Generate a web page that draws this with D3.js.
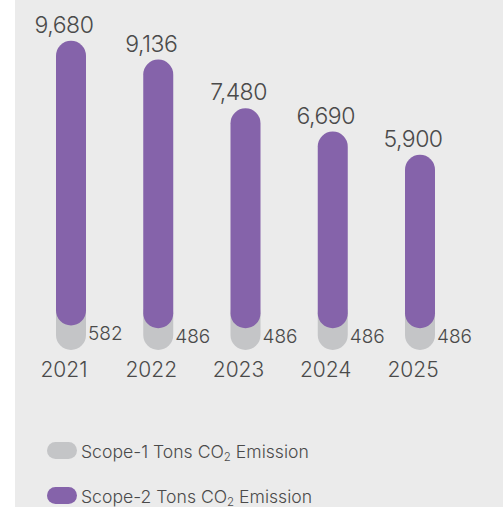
<!DOCTYPE html>
<html>
<head>
<meta charset="utf-8">
<script src="https://cdn.jsdelivr.net/npm/d3@7"></script>
<style>
  html, body { margin: 0; padding: 0; background: #ffffff; }
  svg { display: block; }
  text { font-family: Inter, Lato, "Noto Sans", sans-serif; font-weight: 300; fill: #4a4a4a; }
</style>
</head>
<body>
<div id="chart"></div>
<script>
// Emission data per year (tons CO2)
const years = ["2021", "2022", "2023", "2024", "2025"];
const scope1 = [582, 486, 486, 486, 486];
const scope2 = [9680, 9136, 7480, 6690, 5900];
const legendLabels = ["Scope-1 Tons CO", "Scope-2 Tons CO"];

const W = 503, H = 507;
const colors = { scope1: "#c4c5c7", scope2: "#8563aa", panel: "#ebebeb" };

const svg = d3.select("#chart").append("svg")
  .attr("width", W).attr("height", H);

// panel background
svg.append("rect")
  .attr("x", 15).attr("y", 0)
  .attr("width", W - 15).attr("height", H)
  .attr("fill", colors.panel);

const barW = 30, r = barW / 2;
const baseY = 350;

const x = d3.scalePoint().domain(years).range([71, 420]);
// vertical value scale (px per ton)
const y = d3.scaleLinear().domain([0, 10000]).range([baseY, baseY - 294]);

const data = years.map((yr, i) => ({ year: yr, s1: scope1[i], s2: scope2[i] }));

// bottom of the purple pill sits on top of the scope-1 segment
const purpleBottom = d => y(d.s1) - r / 2;
const purpleTop = d => purpleBottom(d) - (y(0) - y(d.s2));

const g = svg.append("g");

// scope-1 pills (partly hidden behind scope-2)
g.selectAll("rect.s1").data(data).join("rect")
  .attr("class", "s1")
  .attr("x", d => x(d.year) - r)
  .attr("y", d => purpleBottom(d) - barW)
  .attr("width", barW)
  .attr("height", d => baseY - (purpleBottom(d) - barW))
  .attr("rx", r).attr("ry", r)
  .attr("fill", colors.scope1);

// scope-2 pills
g.selectAll("rect.s2").data(data).join("rect")
  .attr("class", "s2")
  .attr("x", d => x(d.year) - r)
  .attr("y", d => purpleTop(d))
  .attr("width", barW)
  .attr("height", d => purpleBottom(d) - purpleTop(d))
  .attr("rx", r).attr("ry", r)
  .attr("fill", colors.scope2);

const fmt = d3.format(",");

// scope-2 value labels
g.selectAll("text.v2").data(data).join("text")
  .attr("class", "v2")
  .attr("x", d => x(d.year) - 7)
  .attr("y", d => purpleTop(d) - 8)
  .attr("text-anchor", "middle")
  .attr("font-size", 23)
  .attr("letter-spacing", -0.5)
  .text(d => fmt(d.s2));

// scope-1 value labels
g.selectAll("text.v1").data(data).join("text")
  .attr("class", "v1")
  .attr("x", d => x(d.year) + r + 2)
  .attr("y", d => purpleBottom(d) + 15)
  .attr("text-anchor", "start")
  .attr("font-size", 19)
  .text(d => fmt(d.s1));

// year labels
g.selectAll("text.yr").data(data).join("text")
  .attr("class", "yr")
  .attr("x", d => x(d.year) - 7)
  .attr("y", 377)
  .attr("text-anchor", "middle")
  .attr("font-size", 21)
  .text(d => d.year);

// legend
const legend = svg.append("g");
const legendItems = [
  { label: legendLabels[0], color: colors.scope1, y: 442 },
  { label: legendLabels[1], color: colors.scope2, y: 487 }
];
legendItems.forEach(it => {
  legend.append("rect")
    .attr("x", 47).attr("y", it.y)
    .attr("width", 30).attr("height", 17)
    .attr("rx", 8.5).attr("ry", 8.5)
    .attr("fill", it.color);
  const t = legend.append("text")
    .attr("x", 81).attr("y", it.y + 16)
    .attr("font-size", 17.6);
  t.append("tspan").text(it.label);
  t.append("tspan").attr("font-size", 11.5).attr("dy", 3).text("2");
  t.append("tspan").attr("dy", -3).text(" Emission");
});
</script>
</body>
</html>
